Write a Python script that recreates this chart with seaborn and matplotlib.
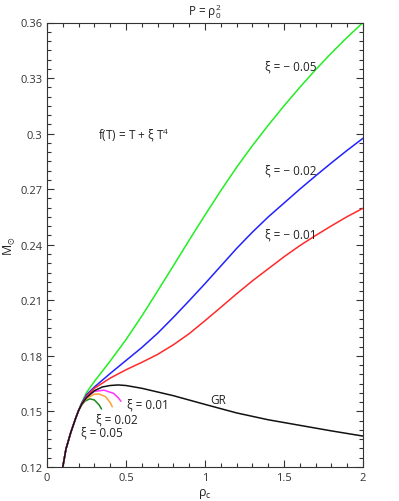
import numpy as np
import pandas as pd
import matplotlib
matplotlib.use('Agg')
import matplotlib.pyplot as plt
from matplotlib.ticker import MultipleLocator, FuncFormatter
import seaborn as sns

# ---- 数据 ----
rho_green = [0.10, 0.12, 0.15, 0.18, 0.20, 0.22, 0.25, 0.30, 0.40, 0.50, 0.60, 0.70, 0.80, 0.90, 1.00,
             1.10, 1.20, 1.30, 1.40, 1.50, 1.60, 1.70, 1.80, 1.90, 2.00]
m_green = [0.120, 0.1297, 0.1385, 0.1460, 0.1508, 0.1548, 0.1602, 0.1662, 0.1772, 0.1888, 0.2015,
           0.2150, 0.2287, 0.2425, 0.2560, 0.2692, 0.2818, 0.2935, 0.3045, 0.3150, 0.3250,
           0.3345, 0.3435, 0.3520, 0.3600]

rho_blue = [0.10, 0.12, 0.15, 0.18, 0.20, 0.22, 0.25, 0.30, 0.40, 0.50, 0.60, 0.70, 0.80, 0.90, 1.00,
            1.10, 1.20, 1.30, 1.40, 1.50, 1.60, 1.70, 1.80, 1.90, 2.00]
m_blue = [0.120, 0.1297, 0.1385, 0.1460, 0.1505, 0.1545, 0.1590, 0.1632, 0.1705, 0.1775, 0.1845,
          0.1922, 0.2008, 0.2098, 0.2190, 0.2285, 0.2380, 0.2468, 0.2550, 0.2625, 0.2700,
          0.2772, 0.2842, 0.2910, 0.2975]

rho_red = [0.10, 0.12, 0.15, 0.18, 0.20, 0.22, 0.25, 0.30, 0.40, 0.50, 0.60, 0.70, 0.80, 0.90, 1.00,
           1.10, 1.20, 1.30, 1.40, 1.50, 1.60, 1.70, 1.80, 1.90, 2.00]
m_red = [0.120, 0.1297, 0.1385, 0.1460, 0.1505, 0.1542, 0.1583, 0.1625, 0.1680, 0.1725, 0.1765,
         0.1808, 0.1860, 0.1920, 0.1990, 0.2062, 0.2135, 0.2205, 0.2270, 0.2335, 0.2395,
         0.2450, 0.2502, 0.2552, 0.2597]

rho_gr = [0.10, 0.12, 0.15, 0.18, 0.20, 0.22, 0.25, 0.30, 0.35, 0.40, 0.45, 0.50, 0.60, 0.70, 0.80,
          1.00, 1.20, 1.40, 1.60, 1.80, 2.00]
m_gr = [0.120, 0.1297, 0.1385, 0.1460, 0.1505, 0.1540, 0.1575, 0.1612, 0.1632, 0.1640, 0.1643,
        0.1640, 0.1625, 0.1605, 0.1585, 0.1538, 0.1492, 0.1455, 0.1425, 0.1395, 0.1367]

rho_p05 = [0.10, 0.12, 0.15, 0.18, 0.20, 0.22, 0.24, 0.27, 0.30, 0.33, 0.345]
m_p05 = [0.120, 0.1297, 0.1385, 0.1460, 0.1505, 0.1535, 0.1555, 0.1568, 0.1562, 0.1535, 0.1513]

rho_p02 = [0.10, 0.12, 0.15, 0.18, 0.20, 0.22, 0.25, 0.30, 0.33, 0.37, 0.40, 0.413]
m_p02 = [0.120, 0.1297, 0.1385, 0.1460, 0.1505, 0.1538, 0.1570, 0.1593, 0.1594, 0.1580, 0.1548, 0.1525]

rho_p01 = [0.10, 0.12, 0.15, 0.18, 0.20, 0.22, 0.25, 0.30, 0.36, 0.42, 0.45, 0.468]
m_p01 = [0.120, 0.1297, 0.1385, 0.1460, 0.1505, 0.1540, 0.1578, 0.1608, 0.1615, 0.1598, 0.1575, 0.1555]

curves = [
    (rho_green, m_green, '#22ee22'),
    (rho_blue, m_blue, '#2222ff'),
    (rho_red, m_red, '#ff2a2a'),
    (rho_p05, m_p05, '#1f8a1f'),
    (rho_p02, m_p02, '#ffa033'),
    (rho_p01, m_p01, '#ff33ff'),
    (rho_gr, m_gr, '#111111'),
]

sns.set_style('ticks')
plt.rcParams['font.family'] = ['Open Sans', 'DejaVu Sans']
plt.rcParams['mathtext.fontset'] = 'custom'
plt.rcParams['mathtext.rm'] = 'Open Sans'

fig = plt.figure(figsize=(3.99, 5.02), dpi=100)
ax = fig.add_axes([47 / 399, 1 - 468 / 502, 316 / 399, 444.5 / 502])

for xs, ys, c in curves:
    sns.lineplot(x=xs, y=ys, color=c, linewidth=1.1, sort=False, estimator=None, ax=ax)

ax.set_xlim(0, 2)
ax.set_ylim(0.12, 0.36)
ax.xaxis.set_major_locator(MultipleLocator(0.5))
ax.xaxis.set_minor_locator(MultipleLocator(0.1))
ax.yaxis.set_major_locator(MultipleLocator(0.03))
ax.yaxis.set_minor_locator(MultipleLocator(0.005))
fmt = FuncFormatter(lambda v, p: f'{v:g}')
ax.xaxis.set_major_formatter(fmt)
ax.yaxis.set_major_formatter(fmt)
ax.tick_params(which='both', direction='in', top=True, right=True,
               labelsize=8, colors='#333333', width=0.8)
ax.tick_params(which='major', length=5)
ax.tick_params(which='minor', length=3)
for s in ax.spines.values():
    s.set_color('#333333')
    s.set_linewidth(0.8)

ax.set_title(r'P = $\mathregular{\rho_0^2}$', fontsize=8.5, color='#222222', pad=6)
ax.set_xlabel(r'$\mathregular{\rho_c}$', fontsize=9, color='#222222', labelpad=2)
ax.set_ylabel(r'$\mathregular{M_{\odot}}$', fontsize=9, color='#222222', labelpad=2)

tkw = dict(fontsize=8.5, color='#222222', va='center', ha='left')
ax.text(1.38, 0.3367, 'ξ = − 0.05', **tkw)
ax.text(1.38, 0.2805, 'ξ = − 0.02', **tkw)
ax.text(1.38, 0.2458, 'ξ = − 0.01', **tkw)
ax.text(0.325, 0.2998, r'f(T) = T + ξ T$\mathregular{^4}$', **tkw)
ax.text(0.506, 0.1540, 'ξ = 0.01', **tkw)
ax.text(0.31, 0.1459, 'ξ = 0.02', **tkw)
ax.text(0.213, 0.1391, 'ξ = 0.05', **tkw)
ax.text(1.036, 0.1567, 'GR', **tkw)

fig.savefig('out.png', dpi=100)
